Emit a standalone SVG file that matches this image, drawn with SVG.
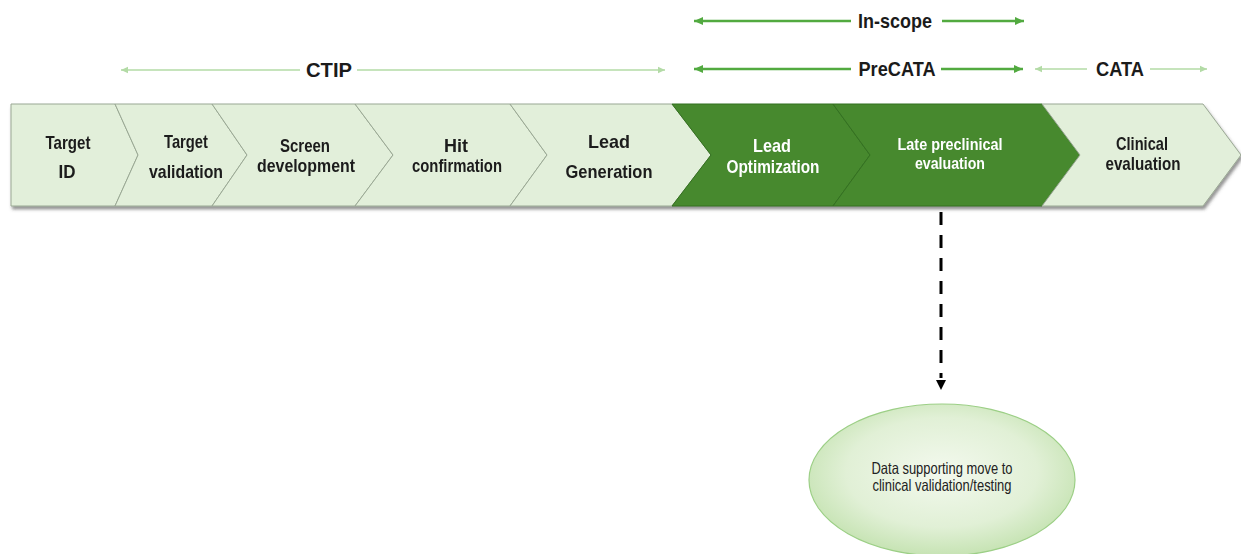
<svg xmlns="http://www.w3.org/2000/svg" width="1241" height="554" viewBox="0 0 1241 554">
  <defs>
    <style>
      .lbl { font-family: "Liberation Sans Narrow", "Liberation Sans", Arial, sans-serif; font-weight: bold; text-anchor: middle; }
      .dk { fill: #1b1b1b; }
      .wh { fill: #ffffff; }
      .light { fill: #e2efda; stroke: #9aa894; stroke-width: 1; }
      .dark { fill: #46892f; stroke: #34701f; stroke-width: 1; }
      .span-mid { stroke: #52aa40; stroke-width: 2.5; fill: none; }
      .span-light { stroke: #b3dba6; stroke-width: 1.6; fill: none; }
      .note { font-family: "Liberation Sans Narrow", "Liberation Sans", Arial, sans-serif; font-size: 16.5px; fill: #222; text-anchor: middle; }
    </style>
    <filter id="barShadow" x="-2%" y="-10%" width="104%" height="130%">
      <feDropShadow dx="1.5" dy="3" stdDeviation="1.6" flood-color="#404040" flood-opacity="0.55"/>
    </filter>
    <radialGradient id="ovalFill" cx="50%" cy="45%" r="60%">
      <stop offset="0" stop-color="#f3f9ee"/>
      <stop offset="0.6" stop-color="#e1f0d6"/>
      <stop offset="1" stop-color="#bfe0aa"/>
    </radialGradient>
    <marker id="ahMid" markerUnits="userSpaceOnUse" markerWidth="12" markerHeight="10" refX="9" refY="5" orient="auto-start-reverse">
      <path d="M0,1 L9,5 L0,9 Z" fill="#52aa40"/>
    </marker>
    <marker id="ahLight" markerUnits="userSpaceOnUse" markerWidth="10" markerHeight="8" refX="7" refY="4" orient="auto-start-reverse">
      <path d="M0,0.8 L7,4 L0,7.2 Z" fill="#b3dba6"/>
    </marker>
  </defs>

  <rect width="1241" height="554" fill="#ffffff"/>

  <!-- process bar: chevron stages -->
  <g id="stages" filter="url(#barShadow)">
    <g id="stage-target-id">
      <polygon class="light" points="11,104 115,104 138,155 115,206 11,206"/>
      <text class="lbl dk" font-size="19" x="68" y="149" textLength="45" lengthAdjust="spacingAndGlyphs">Target</text>
      <text class="lbl dk" font-size="19" x="67" y="178" textLength="17" lengthAdjust="spacingAndGlyphs">ID</text>
    </g>
    <g id="stage-target-validation">
      <polygon class="light" points="115,104 212,104 247,155 212,206 115,206 138,155"/>
      <text class="lbl dk" font-size="19" x="186" y="148" textLength="44" lengthAdjust="spacingAndGlyphs">Target</text>
      <text class="lbl dk" font-size="19" x="186" y="178" textLength="74" lengthAdjust="spacingAndGlyphs">validation</text>
    </g>
    <g id="stage-screen-development">
      <polygon class="light" points="212,104 355,104 393,155 355,206 212,206 247,155"/>
      <text class="lbl dk" font-size="19" x="305" y="152" textLength="50" lengthAdjust="spacingAndGlyphs">Screen</text>
      <text class="lbl dk" font-size="19" x="306" y="172" textLength="98" lengthAdjust="spacingAndGlyphs">development</text>
    </g>
    <g id="stage-hit-confirmation">
      <polygon class="light" points="355,104 510,104 547,155 510,206 355,206 393,155"/>
      <text class="lbl dk" font-size="19" x="456" y="152" textLength="24" lengthAdjust="spacingAndGlyphs">Hit</text>
      <text class="lbl dk" font-size="19" x="457" y="172" textLength="90" lengthAdjust="spacingAndGlyphs">confirmation</text>
    </g>
    <g id="stage-lead-generation">
      <polygon class="light" points="510,104 672,104 711,155 672,206 510,206 547,155"/>
      <text class="lbl dk" font-size="19" x="609" y="148" textLength="42" lengthAdjust="spacingAndGlyphs">Lead</text>
      <text class="lbl dk" font-size="19" x="609" y="178" textLength="87" lengthAdjust="spacingAndGlyphs">Generation</text>
    </g>
    <g id="stage-lead-optimization">
      <polygon class="dark" points="672,104 833,104 870,155 833,206 672,206 711,155"/>
      <text class="lbl wh" font-size="19" x="772" y="152" textLength="38" lengthAdjust="spacingAndGlyphs">Lead</text>
      <text class="lbl wh" font-size="19" x="773" y="173" textLength="93" lengthAdjust="spacingAndGlyphs">Optimization</text>
    </g>
    <g id="stage-late-preclinical">
      <polygon class="dark" points="833,104 1042,104 1080,155 1042,206 833,206 870,155"/>
      <text class="lbl wh" font-size="16" x="950" y="150" textLength="105" lengthAdjust="spacingAndGlyphs">Late preclinical</text>
      <text class="lbl wh" font-size="16" x="950" y="169" textLength="70" lengthAdjust="spacingAndGlyphs">evaluation</text>
    </g>
    <g id="stage-clinical">
      <polygon class="light" points="1042,104 1203,104 1241,155 1203,206 1042,206 1080,155"/>
      <text class="lbl dk" font-size="19" x="1142" y="150" textLength="52" lengthAdjust="spacingAndGlyphs">Clinical</text>
      <text class="lbl dk" font-size="19" x="1143" y="170" textLength="75" lengthAdjust="spacingAndGlyphs">evaluation</text>
    </g>
  </g>

  <!-- span labels above the bar -->
  <g id="span-labels">
    <text class="lbl dk" font-size="21" x="895" y="28" textLength="74" lengthAdjust="spacingAndGlyphs">In-scope</text>
    <text class="lbl dk" font-size="21" x="897" y="76" textLength="77" lengthAdjust="spacingAndGlyphs">PreCATA</text>
    <text class="lbl dk" font-size="21" x="329" y="77" textLength="46" lengthAdjust="spacingAndGlyphs">CTIP</text>
    <text class="lbl dk" font-size="21" x="1120" y="76" textLength="48" lengthAdjust="spacingAndGlyphs">CATA</text>
  </g>

  <!-- outcome oval -->
  <g id="outcome">
    <ellipse cx="942" cy="480" rx="133" ry="76" fill="url(#ovalFill)" stroke="#9ccf86" stroke-width="1.2"/>
    <text class="note" x="942" y="474" textLength="141" lengthAdjust="spacingAndGlyphs">Data supporting move to</text>
    <text class="note" x="942" y="491" textLength="139" lengthAdjust="spacingAndGlyphs">clinical validation/testing</text>
  </g>

  <!-- connectors -->
  <g id="connectors">
    <line class="span-mid" x1="694" y1="21" x2="851" y2="21" marker-start="url(#ahMid)"/>
    <line class="span-mid" x1="942" y1="21" x2="1024" y2="21" marker-end="url(#ahMid)"/>
    <line class="span-mid" x1="694" y1="69" x2="851" y2="69" marker-start="url(#ahMid)"/>
    <line class="span-mid" x1="941" y1="69" x2="1023" y2="69" marker-end="url(#ahMid)"/>
    <line class="span-light" x1="121" y1="70" x2="300" y2="70" marker-start="url(#ahLight)"/>
    <line class="span-light" x1="357" y1="70" x2="665" y2="70" marker-end="url(#ahLight)"/>
    <line class="span-light" x1="1035" y1="69" x2="1087" y2="69" marker-start="url(#ahLight)"/>
    <line class="span-light" x1="1150" y1="69" x2="1207" y2="69" marker-end="url(#ahLight)"/>
    <line x1="941" y1="212" x2="941" y2="378" stroke="#000" stroke-width="3" stroke-dasharray="13 10"/>
    <path d="M936,380 L946,380 L941,390 Z" fill="#000"/>
  </g>
</svg>
